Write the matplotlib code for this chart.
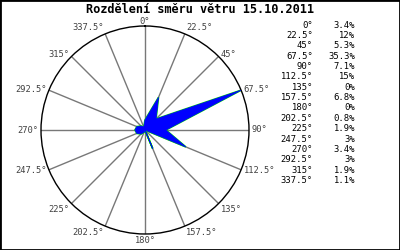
import numpy as np
import matplotlib
matplotlib.use("Agg")
import matplotlib.pyplot as plt

title = "Rozdělení směru větru 15.10.2011"
directions = [0, 22.5, 45, 67.5, 90, 112.5, 135, 157.5, 180, 202.5, 225, 247.5, 270, 292.5, 315, 337.5]
dir_labels = ["0°", "22.5°", "45°", "67.5°", "90°", "112.5°", "135°", "157.5°", "180°",
              "202.5°", "225°", "247.5°", "270°", "292.5°", "315°", "337.5°"]
percent = [3.4, 12, 5.3, 35.3, 7.1, 15, 0, 6.8, 0, 0.8, 1.9, 3, 3.4, 3, 1.9, 1.1]
percent_labels = ["3.4%", "12%", "5.3%", "35.3%", "7.1%", "15%", "0%", "6.8%", "0%",
                  "0.8%", "1.9%", "3%", "3.4%", "3%", "1.9%", "1.1%"]

W, H = 400, 250
fig = plt.figure(figsize=(W / 100, H / 100), dpi=100)
fig.patch.set_facecolor("white")
mono = "DejaVu Sans Mono"

cx, cy, R = 145, 130, 104
ax = fig.add_axes([(cx - R) / W, (H - cy - R) / H, 2 * R / W, 2 * R / H], projection="polar")
ax.set_theta_zero_location("N")
ax.set_theta_direction(-1)
rmax = max(percent)
ax.set_ylim(0, rmax)
ax.grid(False)
ax.set_xticks([])
ax.set_yticks([])
ax.spines["polar"].set_color("black")
ax.spines["polar"].set_linewidth(1.0)
ax.patch.set_alpha(0)

th = np.deg2rad(directions)
for t in th:
    ax.plot([t, t], [0, rmax], color="#787878", lw=1.0, zorder=1)

tc = np.append(th, th[0])
rc = np.append(percent, percent[0])
ax.fill(tc, rc, facecolor="#00dd00", edgecolor="#00dd00", lw=1.2, zorder=2)
ax.fill(tc, rc, facecolor="#0000ff", edgecolor="#0000ff", lw=0.5, zorder=3)

for d, lab in zip(directions, dir_labels):
    s, c = np.sin(np.deg2rad(d)), np.cos(np.deg2rad(d))
    ha = "left" if s > 0.01 else ("right" if s < -0.01 else "center")
    if c > 0.8:
        va = "bottom"
    elif c < -0.6:
        va = "top"
    else:
        va = "center"
    off_y = 0.0 if d == 0 else 1.5 * c
    ax.annotate(lab, xy=(np.deg2rad(d), rmax), xytext=(2.0 * s, off_y),
                textcoords="offset points", ha=ha, va=va, fontsize=6.3,
                family=mono, color="#404040", annotation_clip=False)

fig.text(0.5, 1 - 9.5 / H, title, ha="center", va="center", fontsize=8.6,
         fontweight="bold", family=mono, color="black")

for i, (dl, pl) in enumerate(zip(dir_labels, percent_labels)):
    y = 1 - (25 + 10.37 * i) / H
    fig.text(313 / W, y, dl, ha="right", va="center", fontsize=6.4, family=mono, color="black")
    fig.text(355 / W, y, pl, ha="right", va="center", fontsize=6.4, family=mono, color="black")

fig.patches.append(plt.Rectangle((0, 0), 1, 1, transform=fig.transFigure, fill=False,
                                 ec="black", lw=2.0))

fig.savefig("out.png", dpi=100)
